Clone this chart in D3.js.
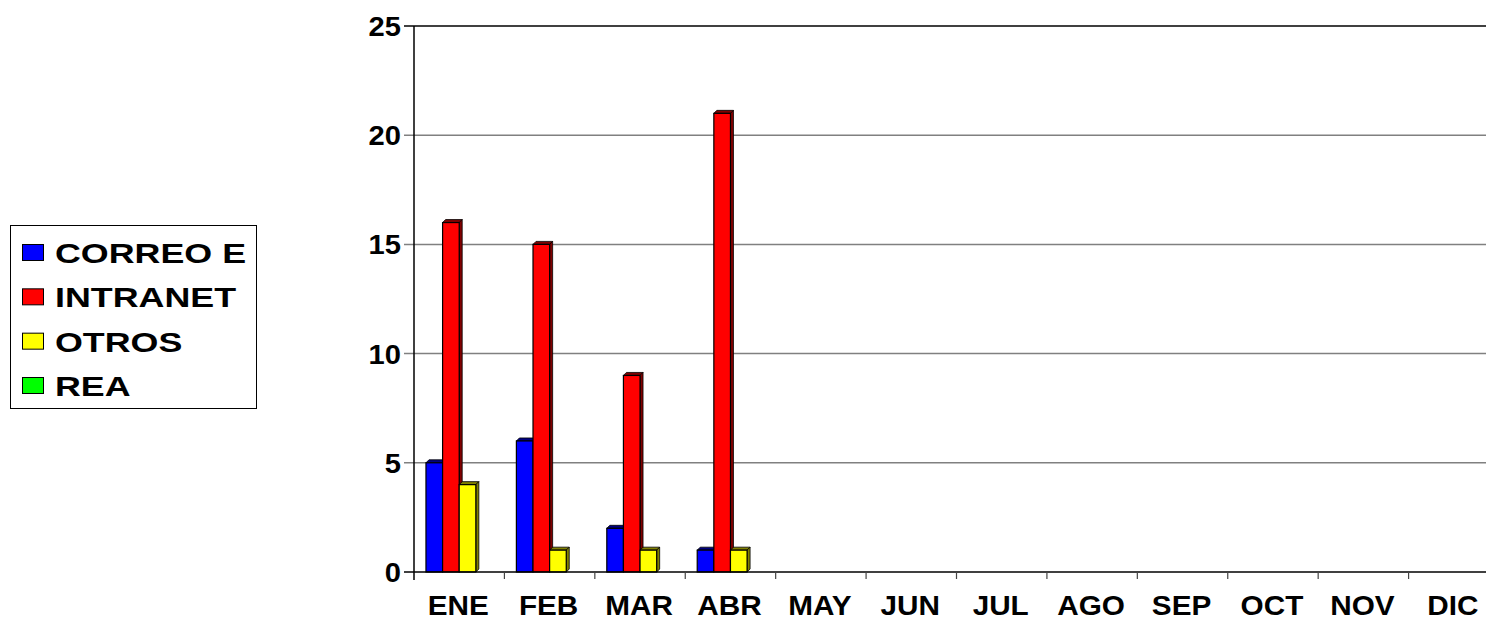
<html>
<head>
<meta charset="UTF-8">
<title>Chart</title>
<script src="https://d3js.org/d3.v7.min.js"></script>
<style>
    body { margin: 0; background: #ffffff; font-family: Arial, "Liberation Sans", sans-serif; }
    svg text { font-family: Arial, "Liberation Sans", sans-serif; font-weight: bold; fill: #000; }
</style>
</head>
<body>
<div id="chart"></div>
<script>
// months on the x axis
var months = ["ENE", "FEB", "MAR", "ABR", "MAY", "JUN", "JUL", "AGO", "SEP", "OCT", "NOV", "DIC"];
// series names
var seriesNames = ["CORREO E", "INTRANET", "OTROS", "REA"];
// values per series (null = no data)
var correoE  = [5, 6, 2, 1, null, null, null, null, null, null, null, null];
var intranet = [16, 15, 9, 21, null, null, null, null, null, null, null, null];
var otros    = [4, 1, 1, 1, null, null, null, null, null, null, null, null];
var rea      = [0, 0, 0, 0, null, null, null, null, null, null, null, null];
var yTicks = [0, 5, 10, 15, 20, 25];

var seriesColors = ["#0000ff", "#ff0000", "#ffff00", "#00ff00"];
var sideColors = ["#000080", "#800000", "#808000", "#008000"];

var width = 1486, height = 621;
var plot = { left: 414, top: 26, right: 1499, bottom: 572 };

var svg = d3.select("#chart").append("svg")
    .attr("width", width)
    .attr("height", height);

var x = d3.scaleBand().domain(months).range([plot.left, plot.right]).paddingInner(0).paddingOuter(0);
var xs = d3.scaleBand().domain(seriesNames).range([0, x.bandwidth()]).paddingInner(0).paddingOuter(0.72);
var y = d3.scaleLinear().domain([0, 25]).range([plot.bottom, plot.top]);

// gridlines
svg.append("g").selectAll("line")
    .data(yTicks.filter(function(d) { return d > 0 && d < 25; }))
    .enter().append("line")
    .attr("x1", plot.left - 10).attr("x2", width)
    .attr("y1", function(d) { return y(d); }).attr("y2", function(d) { return y(d); })
    .attr("stroke", "#808080").attr("stroke-width", 1.5);

// top border line
svg.append("line")
    .attr("x1", plot.left - 10).attr("x2", width)
    .attr("y1", y(25)).attr("y2", y(25))
    .attr("stroke", "#000").attr("stroke-width", 1.3);

// bars
var allSeries = [correoE, intranet, otros, rea];
var bars = [];
allSeries.forEach(function(vals, si) {
    vals.forEach(function(v, mi) {
        if (v != null && v > 0) bars.push({ s: si, m: months[mi], v: v });
    });
});
var depth = 3;
var bw = xs.bandwidth();
var g = svg.append("g");
bars.forEach(function(d) {
    var x0 = x(d.m) + xs(seriesNames[d.s]);
    var y0 = y(d.v);
    var y1 = y(0);
    // top face
    g.append("polygon")
        .attr("points", [[x0, y0], [x0 + depth, y0 - depth], [x0 + bw + depth, y0 - depth], [x0 + bw, y0]].join(" "))
        .attr("fill", sideColors[d.s]).attr("stroke", "#000").attr("stroke-width", 0.8);
    // side face
    g.append("polygon")
        .attr("points", [[x0 + bw, y0], [x0 + bw + depth, y0 - depth], [x0 + bw + depth, y1 - depth], [x0 + bw, y1]].join(" "))
        .attr("fill", sideColors[d.s]).attr("stroke", "#000").attr("stroke-width", 0.8);
    // front
    g.append("rect")
        .attr("x", x0).attr("y", y0)
        .attr("width", bw).attr("height", y1 - y0)
        .attr("fill", seriesColors[d.s]).attr("stroke", "#000").attr("stroke-width", 1.2);
});

// y axis
var ya = svg.append("g");
ya.append("line")
    .attr("x1", plot.left).attr("x2", plot.left)
    .attr("y1", plot.top).attr("y2", plot.bottom + 8)
    .attr("stroke", "#000").attr("stroke-width", 1.5);
ya.append("line")
    .attr("x1", plot.left - 10).attr("x2", plot.left)
    .attr("y1", plot.bottom).attr("y2", plot.bottom)
    .attr("stroke", "#000").attr("stroke-width", 1.5);
ya.selectAll("text")
    .data(yTicks)
    .enter().append("text")
    .attr("transform", function(d) { return "translate(401," + y(d) + ") scale(1.04,1)"; })
    .attr("text-anchor", "end")
    .attr("dy", "0.36em")
    .style("font-size", "28px")
    .text(function(d) { return d; });

// x axis
svg.append("line").attr("x1", plot.left).attr("x2", width)
    .attr("y1", plot.bottom).attr("y2", plot.bottom)
    .attr("stroke", "#000").attr("stroke-width", 1.5);
svg.append("g").selectAll("line")
    .data(months.slice(1))
    .enter().append("line")
    .attr("x1", function(d) { return x(d); }).attr("x2", function(d) { return x(d); })
    .attr("y1", plot.bottom).attr("y2", plot.bottom + 7)
    .attr("stroke", "#444").attr("stroke-width", 1.2);
svg.append("g").selectAll("text")
    .data(months)
    .enter().append("text")
    .attr("transform", function(d) { return "translate(" + (x(d) + x.bandwidth() / 2 - 1) + ",615) scale(1.1,1)"; })
    .attr("text-anchor", "middle")
    .style("font-size", "27px")
    .text(function(d) { return d; });

// legend
var legend = svg.append("g");
legend.append("rect")
    .attr("x", 10.5).attr("y", 225.5).attr("width", 246).attr("height", 183)
    .attr("fill", "#fff").attr("stroke", "#000").attr("stroke-width", 1);
var ly = d3.scalePoint().domain(seriesNames).range([253, 386]);
seriesNames.forEach(function(n, i) {
    legend.append("rect")
        .attr("x", 22.5).attr("y", ly(n) - 8.5).attr("width", 21).attr("height", 16)
        .attr("fill", seriesColors[i]).attr("stroke", "#000").attr("stroke-width", 1);
    legend.append("text")
        .attr("transform", "translate(55," + ly(n) + ") scale(1.28,1)")
        .attr("dy", "0.36em")
        .style("font-size", "28px").text(n);
});
</script>
</body>
</html>
